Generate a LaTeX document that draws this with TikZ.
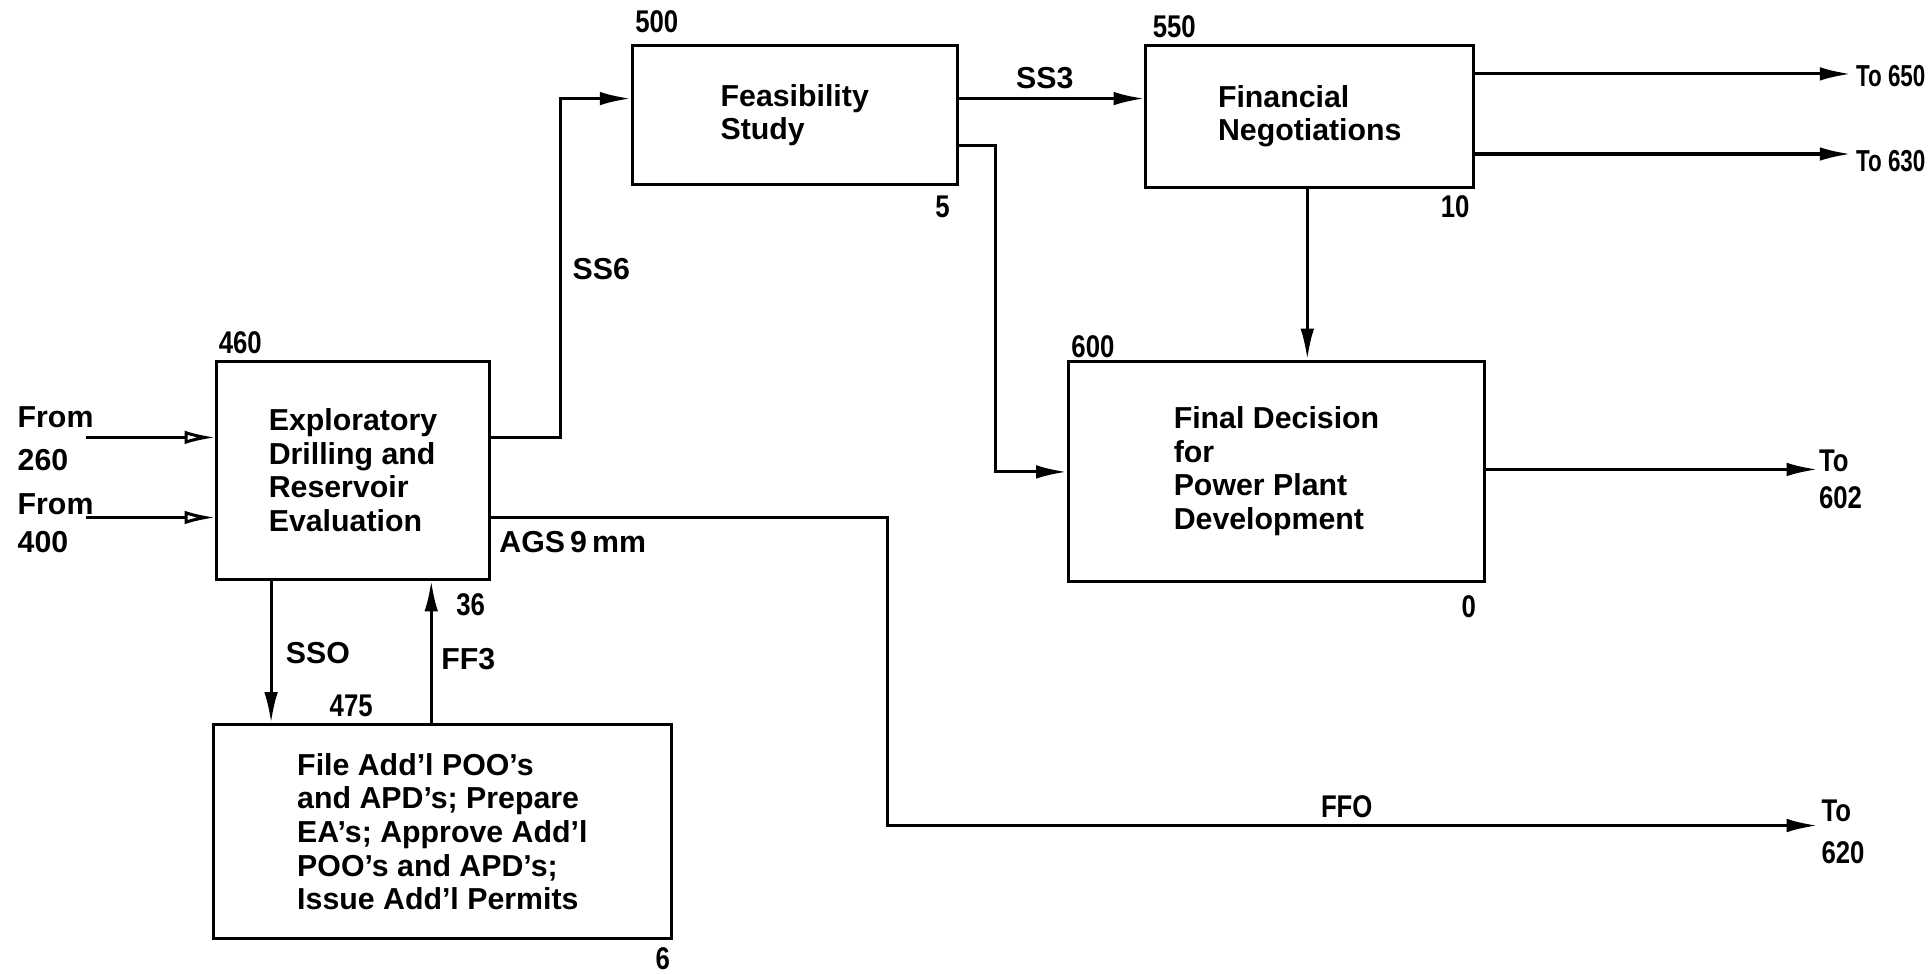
\documentclass[tikz,border=0pt]{standalone}
\usepackage{fontspec}
\setmainfont{Liberation Sans}
\newfontfamily\condfont[FakeStretch=0.82]{Liberation Sans}
\newfontfamily\narrowfont[FakeStretch=0.74]{Liberation Sans}
\usetikzlibrary{arrows.meta}
\begin{document}
\begin{tikzpicture}[x=0.02cm, y=-0.02cm,
  every node/.style={font=\fontsize{14}{15.5}\selectfont\bfseries, inner sep=0pt},
  box/.style={draw, line width=1.4pt, align=left},
  tag/.style={font=\condfont\fontsize{14.5}{15.5}\selectfont\bfseries},
  dest/.style={font=\condfont\fontsize{14.5}{15.5}\selectfont\bfseries, anchor=west, align=left},
  edgedest/.style={font=\narrowfont\fontsize{14}{15.5}\selectfont\bfseries, anchor=west},
  flow/.style={line width=1.4pt, -{Latex[length=0.5cm, width=0.22cm]}},
  inflow/.style={line width=1.4pt, -{Latex[open, length=0.5cm, width=0.22cm]}},
  plain/.style={line width=1.4pt}]
\useasboundingbox (0,0) rectangle (1568,790);
% boxes
\node[box, minimum width=4.42cm, minimum height=3.54cm] (ex) at (286.5,381.5)
  {Exploratory\\Drilling and\\Reservoir\\Evaluation};
\node[box, minimum width=5.28cm, minimum height=2.26cm] (fs) at (645,93.5)
  {Feasibility\\Study};
\node[box, minimum width=5.32cm, minimum height=2.30cm] (fn) at (1063,94.5)
  {Financial\\Negotiations};
\node[box, minimum width=6.76cm, minimum height=3.58cm] (fd) at (1036,382.5)
  {Final Decision\\for\\Power Plant\\Development};
\node[box, minimum width=7.44cm, minimum height=3.48cm] (fp) at (359,675)
  {File Add'l POO's\\and APD's; Prepare\\EA's; Approve Add'l\\POO's and APD's;\\Issue Add'l Permits};
% box tags
\node[tag] (t460) at (195,278) {460};
\node[tag] (t36) at (382,491) {36};
\node[tag] (t500) at (533,18) {500};
\node[tag] (t5) at (765,168) {5};
\node[tag] (t550) at (953,22) {550};
\node[tag] (t10) at (1181,168) {10};
\node[tag] (t600) at (887,281) {600};
\node[tag] (t0) at (1192,492) {0};
\node[tag] (t475) at (285,573) {475};
\node[tag] (t6) at (538,778) {6};
% connector labels
\node (lss6) at (488,218) {SS6};
\node (lss3) at (848,63) {SS3};
\node[anchor=west] (lags) at (405,440) {AGS\,9\,mm};
\node (lsso) at (258,530) {SSO};
\node (lff3) at (380,535) {FF3};
\node[tag] (lffo) at (1093,655) {FFO};
\node[anchor=west, align=left] (from260) at (14,356) {From\\[4pt]260};
\node[anchor=west, align=left] (from400) at (14,425) {From\\[2pt]400};
\node[edgedest] (to650) at (1506,62) {To 650};
\node[edgedest] (to630) at (1506,131) {To 630};
\node[dest] (to602) at (1476,389) {To\\[2pt]602};
\node[dest] (to620) at (1478,675) {To\\[4pt]620};
% coordinates
\coordinate (a260) at (70,355);
\coordinate (a400) at (70,420);
\coordinate (y355) at (0,355);
\coordinate (y420) at (0,420);
\coordinate (y80) at (0,80);
\coordinate (y118) at (0,118);
\coordinate (y383) at (0,383);
\coordinate (y60) at (0,60);
\coordinate (y125) at (0,125);
\coordinate (y381) at (0,381);
\coordinate (y670) at (0,670);
\coordinate (x455) at (455,0);
\coordinate (x808) at (808,0);
\coordinate (x720) at (720,0);
\coordinate (x220) at (220,0);
\coordinate (x350) at (350,0);
\coordinate (x1061) at (1061,0);
\coordinate (e650) at (1502,60);
\coordinate (e630) at (1502,125);
\coordinate (e602) at (1475,381);
\coordinate (e620) at (1475,670);
% connectors
\draw[inflow] (a260) -- (ex.west |- y355);
\draw[inflow] (a400) -- (ex.west |- y420);
\draw[flow] (ex.east |- y355) -| (x455 |- y80) -- (fs.west |- y80);
\draw[flow] (fs.east |- y80) -- (fn.west |- y80);
\draw[flow] (fs.east |- y118) -| (x808 |- y383) -- (fd.west |- y383);
\draw[flow] (fn.east |- y60) -- (e650);
\draw[flow] (fn.east |- y125) -- (e630);
\draw[flow] (x1061 |- fn.south) -- (x1061 |- fd.north);
\draw[flow] (fd.east |- y381) -- (e602);
\draw[flow] (ex.east |- y420) -| (x720 |- y670) -- (e620);
\draw[flow] (x220 |- ex.south) -- (x220 |- fp.north);
\draw[flow] (x350 |- fp.north) -- (x350 |- ex.south);
\end{tikzpicture}
\end{document}
